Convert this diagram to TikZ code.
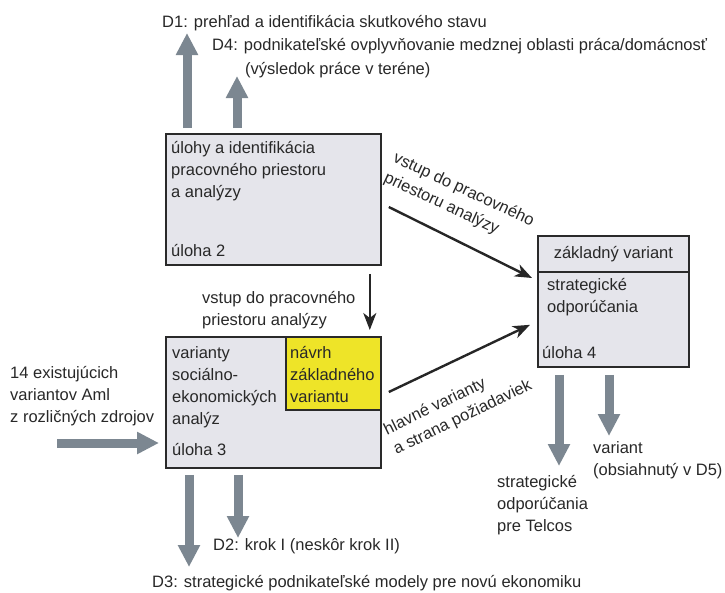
\documentclass[tikz,border=0pt]{standalone}
\usepackage{fontspec}
\setmainfont{Liberation Sans}
\usetikzlibrary{arrows.meta,calc}

\definecolor{boxfill}{RGB}{229,229,235}
\definecolor{boxline}{RGB}{42,42,42}
\definecolor{hilite}{RGB}{238,228,40}
\definecolor{flowgray}{RGB}{124,135,145}
\definecolor{ink}{RGB}{40,40,40}

% strut that fixes the top of a text block 13pt above its first baseline
\newcommand{\topstrut}{\rule{0pt}{13pt}}

\tikzset{
  taskbox/.style={draw=boxline, line width=1.8pt, fill=boxfill, anchor=north west,
                  inner sep=0pt, minimum width=#1},
  txt/.style={font=\fontsize{16.5}{22}\selectfont, text=ink, inner sep=0pt,
              anchor=north west, align=left},
  ctxt/.style={font=\fontsize{16.5}{22}\selectfont, text=ink, inner sep=0pt, align=left},
  flow/.style={draw=flowgray, line width=9pt, line cap=butt,
               -{Triangle[width=21pt,length=22pt]}},
  link/.style={draw=black!85, line width=2.4pt,
               -{Stealth[length=17pt,width=13pt,inset=5pt]}}
}

\begin{document}
\begin{tikzpicture}[x=1pt,y=-1pt]
\useasboundingbox (0,0) rectangle (725,592);

% ---------- task boxes ----------
\node[taskbox=215pt, minimum height=131pt] (t2) at (165,133) {};
\node[taskbox=215pt, minimum height=131pt] (t3) at (165,336) {};
\node[taskbox=95pt, minimum height=73pt, fill=hilite] (t3y) at (285,336) {};
\node[taskbox=151pt, minimum height=36pt] (t4h) at (537,235) {};
\node[taskbox=151pt, minimum height=95pt] (t4b) at (537,271) {};

% ---------- box texts ----------
\node[txt] (t2txt) at (171,140) {\topstrut úlohy a identifikácia\\pracovného priestoru\\a analýzy};
\node[txt] (t2lbl) at (171,243) {\topstrut úloha 2};

\node[txt] (t3txt) at (172,345) {\topstrut varianty\\sociálno-\\ekonomických\\analýz};
\node[txt] (t3lbl) at (172,442) {\topstrut úloha 3};
\node[txt] (t3ytxt) at (290,345) {\topstrut návrh\\základného\\variantu};

\node[ctxt] (t4htxt) at (t4h.center) {základný variant};
\node[txt] (t4txt) at (547,277) {\topstrut strategické\\odporúčania};
\node[txt] (t4lbl) at (542,345) {\topstrut úloha 4};

% ---------- outer labels ----------
\node[txt] (d1) at (162,14) {\topstrut D1: prehľad a identifikácia skutkového stavu};
\node[txt] (d4) at (212,37) {\topstrut D4: podnikateľské ovplyvňovanie medznej oblasti práca/domácnosť};
\node[txt] (d4b) at (245,61) {\topstrut (výsledok práce v teréne)};
\node[txt] (d2) at (213,537) {\topstrut D2: krok I (neskôr krok II)};
\node[txt] (d3) at (152,574) {\topstrut D3: strategické podnikateľské modely pre novú ekonomiku};
\node[txt] (src) at (10,365) {\topstrut 14 existujúcich\\variantov Aml\\z rozličných zdrojov};
\node[txt] (var) at (593,440) {\topstrut variant\\(obsiahnutý v D5)};
\node[txt] (rec) at (497,474) {\topstrut strategické\\odporúčania\\pre Telcos};

% ---------- free ends of the wide arrows ----------
\coordinate (d1tip) at (187,33);
\coordinate (d4tip) at (237,76);
\coordinate (d3tip) at (189,567);
\coordinate (d2tip) at (238,538);
\coordinate (rectip) at (559,466);
\coordinate (vartip) at (609,436);
\coordinate (srcend) at (57,443);

% ---------- wide gray arrows ----------
\draw[flow] ($(t2.north -| d1tip)+(0,-5)$) -- (d1tip);
\draw[flow] ($(t2.north -| d4tip)+(0,-5)$) -- (d4tip);
\draw[flow] ($(t3.south -| d3tip)+(0,6)$) -- (d3tip);
\draw[flow] ($(t3.south -| d2tip)+(0,6)$) -- (d2tip);
\draw[flow] ($(t4b.south -| rectip)+(0,7)$) -- (rectip);
\draw[flow] ($(t4b.south -| vartip)+(0,7)$) -- (vartip);
\draw[flow] (srcend) -- ($(t3.west |- srcend)+(-6,0)$);

% ---------- black links ----------
\draw[link] ($(t2.north east)+(7,74)$) -- ($(t4b.north west)+(-5,7)$);
\draw[link] ($(t2.south east)+(-12,8)$) -- ($(t3.north east)+(-12,-6)$);
\draw[link] ($(t3.north east)+(7,56)$) -- ($(t4b.south west)+(-7,-43)$);

% ---------- link labels ----------
\node[ctxt, rotate=-25] (l24) at (459,200) {vstup do pracovného\\priestoru analýzy};
\node[txt] (l23) at (202,290) {\topstrut vstup do pracovného\\priestoru analýzy};
\node[ctxt, rotate=26] (l34) at (458,408) {hlavné varianty\\a strana požiadaviek};
\end{tikzpicture}
\end{document}
